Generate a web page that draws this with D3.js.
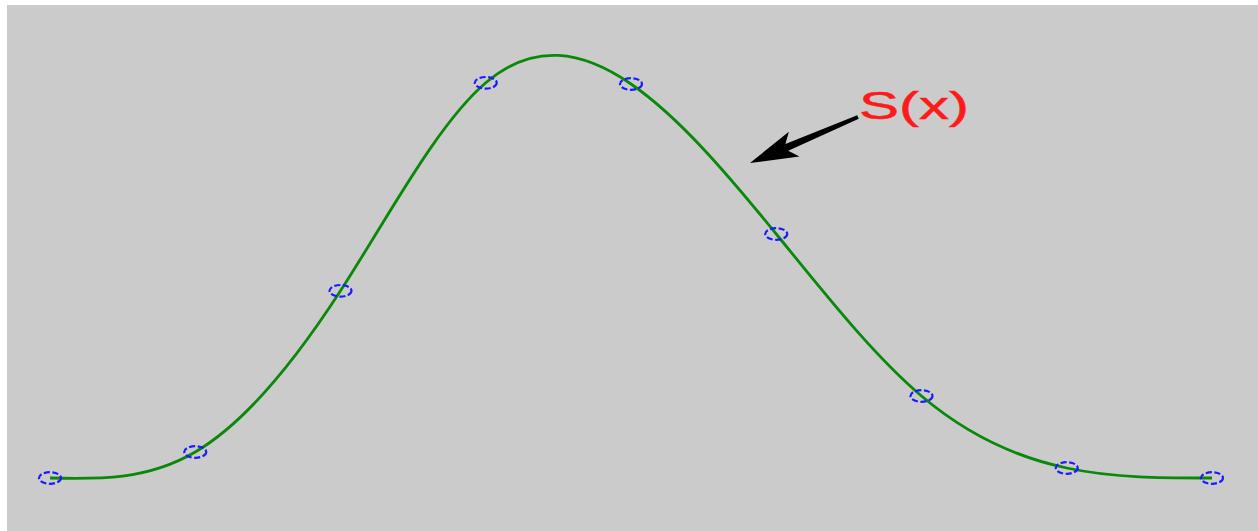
<!DOCTYPE html>
<html>
<head>
<meta charset="utf-8">
<script src="https://cdn.jsdelivr.net/npm/d3@7"></script>
<style>
  html, body { margin: 0; padding: 0; background: #ffffff; }
  svg { display: block; }
</style>
</head>
<body>
<svg id="chart" width="1258" height="531"></svg>
<script>
// Interpolation nodes
const nodeX = [0, 1, 2, 3, 4, 5, 6, 7, 8];
const nodeY = [0, 0.065, 0.468, 0.988, 0.985, 0.61, 0.205, 0.025, 0];
const curveLabel = "S(x)";

const W = 1258, H = 531;
const svg = d3.select("#chart");

// plot panel
svg.append("rect")
  .attr("x", 7).attr("y", 5)
  .attr("width", W - 7).attr("height", H - 5)
  .attr("fill", "#cbcbcb");

const x = d3.scaleLinear().domain([0, 8]).range([50, 1212]);
const y = d3.scaleLinear().domain([0, 1]).range([478, 78]);

const pts = nodeX.map((d, i) => [d, nodeY[i]]);

// spline through the nodes
const line = d3.line()
  .x(d => x(d[0]))
  .y(d => y(d[1]))
  .curve(d3.curveNatural);

svg.append("path")
  .datum(pts)
  .attr("d", line)
  .attr("fill", "none")
  .attr("stroke", "#0a880a")
  .attr("stroke-width", 2.8)
  .attr("stroke-linejoin", "round");

// node markers
svg.selectAll("ellipse.node")
  .data(pts)
  .join("ellipse")
  .attr("class", "node")
  .attr("cx", d => x(d[0]))
  .attr("cy", d => y(d[1]))
  .attr("rx", 11)
  .attr("ry", 5.8)
  .attr("fill", "none")
  .attr("stroke", "#1a1aff")
  .attr("stroke-width", 2.2)
  .attr("stroke-dasharray", "6,2.5");

// annotation arrow
const tail = [858, 117], tip = [750, 163];
const dx = tip[0] - tail[0], dy = tip[1] - tail[1];
const len = Math.hypot(dx, dy);
const ux = dx / len, uy = dy / len;   // direction towards tip
const px = -uy, py = ux;              // perpendicular
const headLen = 48, headHalf = 13.5, notch = 40;
const base = [tip[0] - ux * headLen, tip[1] - uy * headLen];
const neck = [tip[0] - ux * notch, tip[1] - uy * notch];
const w0 = 2, w1 = 3.6;
const arrowPts = [
  [tail[0] + px * w0, tail[1] + py * w0],
  [neck[0] + px * w1, neck[1] + py * w1],
  [base[0] + px * headHalf, base[1] + py * headHalf],
  tip,
  [base[0] - px * headHalf, base[1] - py * headHalf],
  [neck[0] - px * w1, neck[1] - py * w1],
  [tail[0] - px * w0, tail[1] - py * w0]
];
svg.append("path")
  .attr("d", "M" + arrowPts.map(p => p.join(",")).join("L") + "Z")
  .attr("fill", "#000000");

// label, drawn wide
svg.append("text")
  .attr("transform", "translate(859,119) scale(1.58,1)")
  .attr("font-family", "Liberation Sans, Arial, sans-serif")
  .attr("font-size", 38)
  .attr("fill", "#ff1a1a")
  .attr("stroke", "#ff1a1a")
  .attr("stroke-width", 0.5)
  .text(curveLabel);
</script>
</body>
</html>
